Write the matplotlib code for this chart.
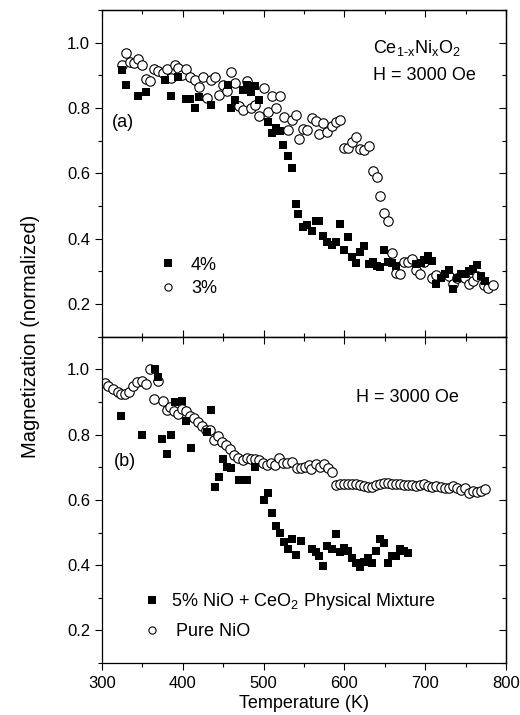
import matplotlib.pyplot as plt
from matplotlib.ticker import MultipleLocator

plt.rcParams['font.family'] = ['Liberation Sans', 'DejaVu Sans']
plt.rcParams['mathtext.fontset'] = 'custom'
plt.rcParams['mathtext.rm'] = 'Liberation Sans'

# (a) Ce1-xNixO2, 4% (filled squares)
t_4 = [325, 330, 345, 355, 378, 385, 394, 404, 409, 415, 420, 435, 456, 460, 465, 475,
       479, 484, 489, 495, 505, 510, 515, 520, 524, 530, 535, 540, 543, 549, 554, 560,
       565, 569, 574, 579, 585, 590, 595, 600, 605, 609, 615, 619, 624, 630, 635, 640,
       644, 649, 654, 659, 664, 689, 695, 699, 704, 709, 714, 719, 724, 729, 734, 739,
       744, 749, 754, 759, 764, 769, 774]
m_4 = [0.916, 0.872, 0.836, 0.848, 0.887, 0.838, 0.894, 0.828, 0.828, 0.800, 0.835, 0.809,
       0.872, 0.800, 0.825, 0.855, 0.872, 0.848, 0.868, 0.824, 0.756, 0.724, 0.740, 0.730,
       0.686, 0.653, 0.616, 0.507, 0.476, 0.437, 0.443, 0.425, 0.455, 0.455, 0.408, 0.389,
       0.380, 0.391, 0.444, 0.366, 0.404, 0.345, 0.327, 0.358, 0.378, 0.322, 0.329, 0.316,
       0.313, 0.367, 0.330, 0.325, 0.316, 0.322, 0.325, 0.336, 0.348, 0.331, 0.262, 0.280,
       0.292, 0.305, 0.246, 0.280, 0.292, 0.292, 0.302, 0.306, 0.320, 0.285, 0.272]

# (a) 3% (open circles)
t_3 = [325, 330, 335, 340, 345, 350, 355, 360, 365, 370, 375, 380, 385, 390, 394, 399,
       404, 409, 415, 420, 425, 430, 435, 440, 445, 450, 455, 460, 465, 470, 475, 480,
       484, 489, 495, 500, 505, 510, 515, 520, 525, 530, 535, 540, 544, 549, 554, 560,
       565, 569, 574, 579, 585, 590, 595, 600, 605, 609, 615, 619, 624, 630, 635, 640,
       644, 649, 654, 659, 664, 669, 674, 679, 684, 689, 694, 699, 709, 714, 729, 734,
       739, 749, 754, 759, 764, 773, 778, 784]
m_3 = [0.933, 0.969, 0.941, 0.939, 0.950, 0.933, 0.889, 0.882, 0.920, 0.914, 0.906, 0.920,
       0.892, 0.933, 0.923, 0.900, 0.918, 0.895, 0.887, 0.863, 0.894, 0.831, 0.885, 0.894,
       0.840, 0.871, 0.851, 0.909, 0.877, 0.806, 0.794, 0.884, 0.800, 0.809, 0.775, 0.860,
       0.788, 0.838, 0.800, 0.836, 0.772, 0.732, 0.764, 0.778, 0.706, 0.737, 0.732, 0.768,
       0.760, 0.720, 0.753, 0.726, 0.744, 0.757, 0.763, 0.679, 0.679, 0.696, 0.711, 0.676,
       0.673, 0.683, 0.608, 0.589, 0.530, 0.479, 0.455, 0.355, 0.295, 0.291, 0.330, 0.330,
       0.339, 0.305, 0.293, 0.329, 0.279, 0.289, 0.286, 0.262, 0.280, 0.280, 0.262, 0.270,
       0.285, 0.259, 0.249, 0.259]

# (b) 5% NiO + CeO2 physical mixture (filled squares)
t_mix = [324, 350, 366, 370, 374, 380, 385, 390, 399, 404, 410, 430, 435, 440, 445, 450,
         455, 460, 470, 480, 490, 500, 505, 510, 515, 520, 525, 530, 535, 540, 546, 560,
         565, 569, 574, 579, 585, 590, 595, 600, 605, 609, 614, 619, 624, 629, 634, 639,
         644, 649, 654, 659, 664, 669, 674, 679]
m_mix = [0.857, 0.798, 1.000, 0.977, 0.788, 0.742, 0.798, 0.900, 0.903, 0.841, 0.758, 0.809,
         0.877, 0.640, 0.670, 0.726, 0.700, 0.699, 0.660, 0.660, 0.700, 0.600, 0.620, 0.560,
         0.520, 0.500, 0.470, 0.450, 0.480, 0.430, 0.474, 0.448, 0.440, 0.429, 0.396, 0.459,
         0.449, 0.496, 0.440, 0.454, 0.444, 0.422, 0.408, 0.394, 0.410, 0.423, 0.408, 0.443,
         0.479, 0.469, 0.408, 0.429, 0.429, 0.449, 0.443, 0.437]

# (b) pure NiO (open circles)
t_nio = [304, 308, 314, 320, 324, 329, 334, 338, 344, 349, 355, 360, 365, 370, 375, 380,
         384, 389, 394, 399, 404, 409, 414, 419, 424, 429, 434, 439, 444, 449, 454, 459,
         464, 469, 474, 479, 484, 489, 494, 499, 504, 509, 514, 519, 524, 529, 535, 541,
         546, 551, 556, 559, 565, 570, 575, 580, 585, 590, 595, 600, 605, 610, 614, 619,
         624, 629, 634, 639, 644, 649, 654, 659, 664, 669, 674, 679, 684, 689, 694, 699,
         704, 709, 714, 719, 724, 729, 734, 739, 744, 749, 754, 759, 764, 769, 774]
m_nio = [0.959, 0.949, 0.939, 0.930, 0.924, 0.924, 0.932, 0.950, 0.961, 0.964, 0.954, 1.000,
         0.910, 0.964, 0.904, 0.877, 0.885, 0.873, 0.863, 0.878, 0.871, 0.858, 0.850, 0.839,
         0.825, 0.815, 0.815, 0.783, 0.795, 0.778, 0.768, 0.756, 0.739, 0.729, 0.722, 0.729,
         0.724, 0.724, 0.722, 0.712, 0.706, 0.714, 0.706, 0.729, 0.712, 0.714, 0.717, 0.698,
         0.698, 0.701, 0.706, 0.696, 0.710, 0.701, 0.710, 0.699, 0.685, 0.647, 0.650, 0.649,
         0.650, 0.648, 0.650, 0.647, 0.643, 0.638, 0.640, 0.645, 0.650, 0.651, 0.651, 0.648,
         0.650, 0.648, 0.646, 0.646, 0.647, 0.644, 0.645, 0.648, 0.643, 0.640, 0.642, 0.640,
         0.635, 0.637, 0.642, 0.636, 0.630, 0.635, 0.622, 0.627, 0.624, 0.628, 0.632]

fig = plt.figure(figsize=(5.2, 7.15), dpi=100)
ax1 = fig.add_axes([0.196, 0.529, 0.777, 0.457])
ax2 = fig.add_axes([0.196, 0.0727, 0.777, 0.4563])

sq = dict(linestyle='none', marker='s', markersize=5.8, color='black', markeredgewidth=0)
ci = dict(linestyle='none', marker='o', markersize=6.8, markerfacecolor='white',
          markeredgecolor='black', markeredgewidth=0.8)

ax1.plot(t_4, m_4, label='4%', zorder=3, **sq)
ax1.plot(t_3, m_3, label='3%', zorder=2, **ci)
ax2.plot(t_mix, m_mix, label='5% NiO + CeO$_2$ Physical Mixture', zorder=3, **sq)
ax2.plot(t_nio, m_nio, label=' Pure NiO', zorder=2, **ci)

for ax in (ax1, ax2):
    ax.set_xlim(300, 800)
    ax.set_ylim(0.1, 1.1)
    ax.xaxis.set_major_locator(MultipleLocator(100))
    ax.xaxis.set_minor_locator(MultipleLocator(50))
    ax.yaxis.set_major_locator(MultipleLocator(0.2))
    ax.yaxis.set_minor_locator(MultipleLocator(0.1))
    ax.tick_params(which='both', direction='out', labelsize=12, width=0.8)
    ax.tick_params(which='major', length=5)
    ax.tick_params(which='minor', length=3)
    ax.tick_params(axis='x', pad=4)
    ax.yaxis.set_major_formatter(plt.FormatStrFormatter('%.1f'))
    for sp in ax.spines.values():
        sp.set_linewidth(0.9)
    # inward ticks on the top and right
    top = ax.secondary_xaxis('top')
    right = ax.secondary_yaxis('right')
    for sec in (top, right):
        sec.tick_params(which='both', direction='in', width=0.8, labeltop=False,
                        labelright=False)
        sec.tick_params(which='major', length=5)
        sec.tick_params(which='minor', length=3)
    top.xaxis.set_major_locator(MultipleLocator(100))
    top.xaxis.set_minor_locator(MultipleLocator(50))
    right.yaxis.set_major_locator(MultipleLocator(0.2))
    right.yaxis.set_minor_locator(MultipleLocator(0.1))
    top.spines['top'].set_linewidth(0.9)
    right.spines['right'].set_linewidth(0.9)

ax1.tick_params(axis='x', which='both', labelbottom=False, direction='in')
ax2.set_xlabel('Temperature (K)', fontsize=13, labelpad=3)
fig.text(0.058, 0.529, 'Magnetization (normalized)', rotation=90, fontsize=14.5,
         ha='center', va='center')

ax1.text(0.671, 0.884, 'Ce$_{\\mathrm{1\\text{-}x}}$Ni$_{\\mathrm{x}}$O$_2$',
         transform=ax1.transAxes, fontsize=13, va='center')
ax1.text(0.671, 0.80, 'H = 3000 Oe', transform=ax1.transAxes, fontsize=13, va='center')
ax1.text(0.025, 0.655, '(a)', transform=ax1.transAxes, fontsize=13, va='center')
ax2.text(0.63, 0.815, 'H = 3000 Oe', transform=ax2.transAxes, fontsize=13, va='center')
ax2.text(0.03, 0.619, '(b)', transform=ax2.transAxes, fontsize=13, va='center')

leg1 = ax1.legend(loc='lower left', bbox_to_anchor=(0.10, 0.072), frameon=False,
                  fontsize=13, handletextpad=0.8, labelspacing=0.35, handlelength=1)
leg2 = ax2.legend(loc='lower left', bbox_to_anchor=(0.062, 0.02), frameon=False,
                  fontsize=13, handletextpad=0.55, labelspacing=0.6, handlelength=1)
for leg in (leg1, leg2):
    leg.legend_handles[0].set_markersize(5.6)
    leg.legend_handles[1].set_markersize(5.2)

fig.savefig('out.png', dpi=100)
